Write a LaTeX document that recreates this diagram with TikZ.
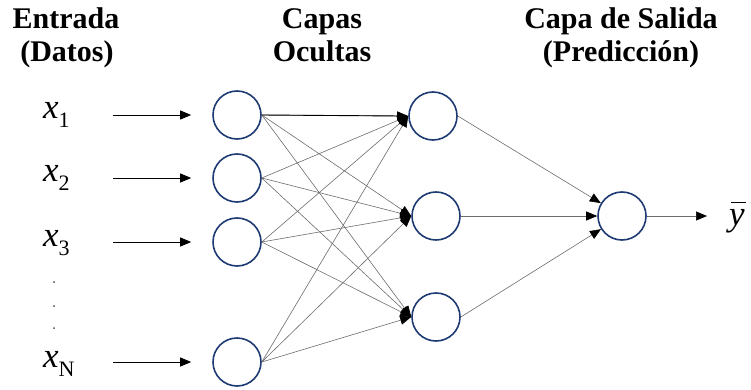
\documentclass[tikz,border=0pt]{standalone}
\usepackage{fontspec}
\setmainfont{LiberationSerif}[Extension=.ttf,UprightFont=*-Regular,BoldFont=*-Bold,ItalicFont=*-Italic,BoldItalicFont=*-BoldItalic]
\usetikzlibrary{arrows.meta}
\definecolor{navy}{HTML}{1F3B73}
\newcommand{\varx}[1]{{\fontsize{35}{36}\selectfont\itshape x}\raisebox{-9pt}{\fontsize{22}{22}\selectfont #1}}
\begin{document}
\begin{tikzpicture}[x=1pt,y=-1pt,
  neuron/.style={circle,draw=navy,line width=1.6pt,minimum size=48pt,inner sep=0pt},
  header/.style={font=\fontsize{30}{32}\selectfont\bfseries,align=center,anchor=base},
  varlab/.style={anchor=base west,inner sep=0pt},
  inarrow/.style={-{Triangle[length=11pt,width=9pt]},line width=0.9pt,black},
  conn/.style={-{Triangle[length=11pt,width=9pt,color=black]},line width=0.6pt,gray!85!black},
  dotmark/.style={fill=black!70,circle,inner sep=0pt,minimum size=2pt}]
\useasboundingbox (0,0) rectangle (751,390);
% headers
\node[header] (h1a) at (66,29) {Entrada};
\node[header] (h1b) at (67,62) {(Datos)};
\node[header] (h2a) at (322,29) {Capas};
\node[header] (h2b) at (322,62) {Ocultas};
\node[header] (h3a) at (621,29) {Capa de Salida};
\node[header] (h3b) at (621,62) {(Predicción)};
% input labels
\node[varlab] (x1) at (43,119) {\varx{1}};
\node[varlab] (x2) at (43,182) {\varx{2}};
\node[varlab] (x3) at (43,246) {\varx{3}};
\node[varlab] (xN) at (43,367) {\varx{N}};
\node[dotmark] (d1) at (54,282) {};
\node[dotmark] (d2) at (54,306) {};
\node[dotmark] (d3) at (54,328) {};
% input arrow start points
\coordinate (s1) at (113,115);
\coordinate (s2) at (113,178);
\coordinate (s3) at (113,242);
\coordinate (sN) at (113,362);
% input neurons
\node[neuron] (i1) at (237,115) {};
\node[neuron] (i2) at (237,178) {};
\node[neuron] (i3) at (237,242) {};
\node[neuron] (iN) at (237,362) {};
% hidden neurons
\node[neuron] (n1) at (433,116) {};
\node[neuron] (n2) at (436,216) {};
\node[neuron] (n3) at (436,317) {};
% output neuron
\node[neuron] (o) at (622,216) {};
\node[varlab] (y) at (729,225) {\makebox[0pt][l]{\hspace{2pt}\rule[22pt]{15pt}{1.3pt}}{\fontsize{35}{36}\selectfont\itshape y}};
\coordinate (yend) at (707,216);
% arrows into input neurons
\foreach \s/\t in {s1/i1,s2/i2,s3/i3,sN/iN}
  \draw[inarrow] (\s) -- ([xshift=-21pt]\t.west);
% input -> hidden
\foreach \i in {i1,i2,i3,iN}
  \foreach \h in {n1,n2,n3}
    \draw[conn] (\i.east) -- (\h.west);
\draw[-,line width=0.9pt,black] (i1.east) -- ([xshift=-8pt]n1.west);
% hidden -> output
\foreach \h in {n1,n2,n3}
  \draw[conn] (\h.east) -- (o);
\draw[conn] (o.east) -- (yend);
\end{tikzpicture}
\end{document}
